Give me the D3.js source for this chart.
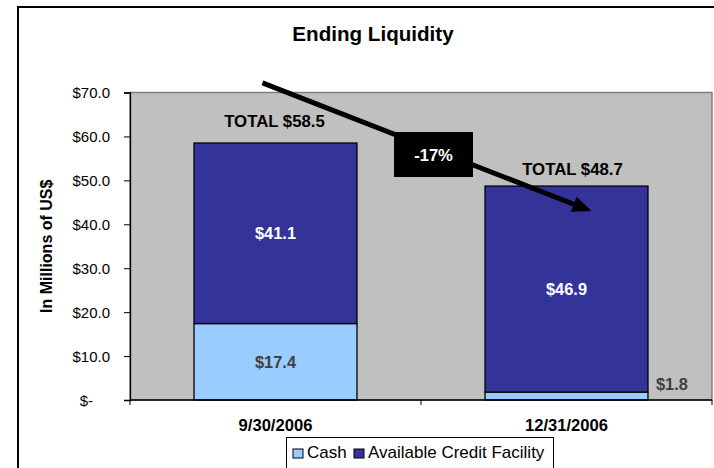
<!DOCTYPE html>
<html>
<head>
<meta charset="utf-8">
<script src="https://cdn.jsdelivr.net/npm/d3@7"></script>
<style>
  body { margin: 0; background: #fff; }
  text { font-family: "Liberation Sans", Arial, sans-serif; }
</style>
</head>
<body>
<div id="chart"></div>
<script>
// chart data
const categories = ["9/30/2006", "12/31/2006"];
const cashValues = [17.4, 1.8];
const creditValues = [41.1, 46.9];
const yTickValues = [0, 10, 20, 30, 40, 50, 60, 70];
const seriesNames = ["Cash", "Available Credit Facility"];
const changeLabel = "-17%";

const width = 714, height = 468;
const margin = { top: 92.5, right: 2, bottom: 68, left: 130 };

const colors = { cash: "#99CCFF", credit: "#333399", plot: "#C0C0C0" };

const svg = d3.select("#chart").append("svg")
  .attr("width", width)
  .attr("height", height);

// outer frame
svg.append("rect")
  .attr("x", 18).attr("y", 7)
  .attr("width", 700).attr("height", 480)
  .attr("fill", "none")
  .attr("stroke", "#000")
  .attr("stroke-width", 2);

const x = d3.scaleBand()
  .domain(categories)
  .range([margin.left, width - margin.right])
  .padding(0);

const y = d3.scaleLinear()
  .domain([0, 70])
  .range([height - margin.bottom, margin.top]);

const barW = x.bandwidth() * 0.56;

// plot area
svg.append("rect")
  .attr("x", margin.left)
  .attr("y", margin.top)
  .attr("width", width - margin.right - margin.left)
  .attr("height", y(0) - margin.top)
  .attr("fill", colors.plot)
  .attr("stroke", "#808080")
  .attr("stroke-width", 1.5);

// stacked bars
const stackData = categories.map((c, i) => ({ cat: c, cash: cashValues[i], credit: creditValues[i] }));
const stack = d3.stack().keys(["cash", "credit"]);
const layers = stack(stackData);

svg.append("g").selectAll("g")
  .data(layers)
  .join("g")
  .attr("fill", d => colors[d.key])
  .selectAll("rect")
  .data(d => d)
  .join("rect")
  .attr("x", d => x(d.data.cat) + (x.bandwidth() - barW) / 2)
  .attr("y", d => y(d[1]))
  .attr("width", barW)
  .attr("height", d => y(d[0]) - y(d[1]))
  .attr("stroke", "#000")
  .attr("stroke-width", 1.3);

// axes
const yAxis = d3.axisLeft(y)
  .tickValues(yTickValues)
  .tickSize(6)
  .tickPadding(14)
  .tickFormat(d => d === 0 ? "$-" : "$" + d3.format(".1f")(d));

const gy = svg.append("g")
  .attr("transform", `translate(${margin.left},0)`)
  .call(yAxis);
gy.select(".domain").attr("stroke", "#000").attr("stroke-width", 1.3);
gy.selectAll(".tick line").attr("stroke", "#000");
gy.selectAll(".tick text")
  .attr("font-size", 15)
  .attr("fill", "#000")
  .attr("dy", "0.35em")
  .attr("dx", d => d === 0 ? -17 : 0);

const xAxisY = y(0);
svg.append("line")
  .attr("x1", margin.left).attr("x2", width - margin.right)
  .attr("y1", xAxisY).attr("y2", xAxisY)
  .attr("stroke", "#000").attr("stroke-width", 1.3);
const xTicks = [margin.left, ...categories.map(c => x(c) + x.bandwidth())];
svg.append("g").selectAll("line")
  .data(xTicks)
  .join("line")
  .attr("x1", d => d).attr("x2", d => d)
  .attr("y1", xAxisY).attr("y2", xAxisY + 5)
  .attr("stroke", "#000");

svg.append("g").selectAll("text")
  .data(categories)
  .join("text")
  .attr("x", d => x(d) + x.bandwidth() / 2)
  .attr("y", xAxisY + 30.5)
  .attr("text-anchor", "middle")
  .attr("font-size", 16.6)
  .attr("font-weight", "bold")
  .text(d => d);

// title
svg.append("text")
  .attr("x", 373).attr("y", 41)
  .attr("text-anchor", "middle")
  .attr("font-size", 20.6)
  .attr("font-weight", "bold")
  .text("Ending Liquidity");

// y axis title
svg.append("text")
  .attr("transform", `translate(52,${(margin.top + y(0)) / 2}) rotate(-90)`)
  .attr("text-anchor", "middle")
  .attr("font-size", 16)
  .attr("font-weight", "bold")
  .text("In Millions of US$");

// segment value labels
const fmt = d3.format(".1f");
stackData.forEach((d, i) => {
  const cx = x(d.cat) + x.bandwidth() / 2;
  svg.append("text")
    .attr("x", cx)
    .attr("y", (y(d.cash) + y(d.cash + d.credit)) / 2)
    .attr("dy", "0.35em")
    .attr("text-anchor", "middle")
    .attr("font-size", 16.4)
    .attr("font-weight", "bold")
    .attr("fill", "#fff")
    .text("$" + fmt(d.credit));

  const small = y(0) - y(d.cash) < 20;
  svg.append("text")
    .attr("x", small ? cx + barW / 2 + 8 : cx)
    .attr("y", small ? y(0) - 10 : (y(0) + y(d.cash)) / 2)
    .attr("dy", small ? 0 : "0.35em")
    .attr("text-anchor", small ? "start" : "middle")
    .attr("font-size", 16.4)
    .attr("font-weight", "bold")
    .attr("fill", "#404040")
    .text("$" + fmt(d.cash));
});

// total labels
const totalOffsets = [{ dx: -1, dy: -16 }, { dx: 6, dy: -11 }];
stackData.forEach((d, i) => {
  const total = d.cash + d.credit;
  svg.append("text")
    .attr("x", x(d.cat) + x.bandwidth() / 2 + totalOffsets[i].dx)
    .attr("y", y(total) + totalOffsets[i].dy)
    .attr("text-anchor", "middle")
    .attr("font-size", 16.8)
    .attr("font-weight", "bold")
    .attr("fill", "#000")
    .text("TOTAL $" + fmt(total));
});

// change arrow
const arrowStart = [x(categories[0]) + x.bandwidth() / 2 - 13, y(72.2)];
const arrowEnd = [x(categories[1]) + x.bandwidth() / 2 + 25, y(43)];
const ang = Math.atan2(arrowEnd[1] - arrowStart[1], arrowEnd[0] - arrowStart[0]);
const headLen = 19, headW = 8;
const base = [arrowEnd[0] - headLen * Math.cos(ang), arrowEnd[1] - headLen * Math.sin(ang)];
svg.append("line")
  .attr("x1", arrowStart[0]).attr("y1", arrowStart[1])
  .attr("x2", base[0]).attr("y2", base[1])
  .attr("stroke", "#000").attr("stroke-width", 5);
svg.append("path")
  .attr("d", d3.line()([
    arrowEnd,
    [base[0] + headW * Math.sin(ang), base[1] - headW * Math.cos(ang)],
    [base[0] - headW * Math.sin(ang), base[1] + headW * Math.cos(ang)]
  ]) + "Z")
  .attr("fill", "#000");

const boxC = [margin.left + (x.range()[1] - margin.left) / 2 + 12.5, 154.5];
svg.append("rect")
  .attr("x", boxC[0] - 39.5).attr("y", boxC[1] - 22.5)
  .attr("width", 79).attr("height", 45)
  .attr("fill", "#000");
svg.append("text")
  .attr("x", boxC[0]).attr("y", boxC[1] + 6)
  .attr("text-anchor", "middle")
  .attr("font-size", 16.6)
  .attr("font-weight", "bold")
  .attr("fill", "#fff")
  .text(changeLabel);

// legend
const legend = svg.append("g");
legend.append("rect")
  .attr("x", 286.5).attr("y", 437.5)
  .attr("width", 267).attr("height", 40)
  .attr("fill", "#fff")
  .attr("stroke", "#000")
  .attr("stroke-width", 1);
const legendItems = [
  { name: seriesNames[0], color: colors.cash, x: 293 },
  { name: seriesNames[1], color: colors.credit, x: 354 }
];
legendItems.forEach(it => {
  legend.append("rect")
    .attr("x", it.x).attr("y", 449)
    .attr("width", 10).attr("height", 9)
    .attr("fill", it.color)
    .attr("stroke", "#000")
    .attr("stroke-width", 1);
  legend.append("text")
    .attr("x", it.x + 14).attr("y", 457.5)
    .attr("font-size", 17)
    .text(it.name);
});
</script>
</body>
</html>
